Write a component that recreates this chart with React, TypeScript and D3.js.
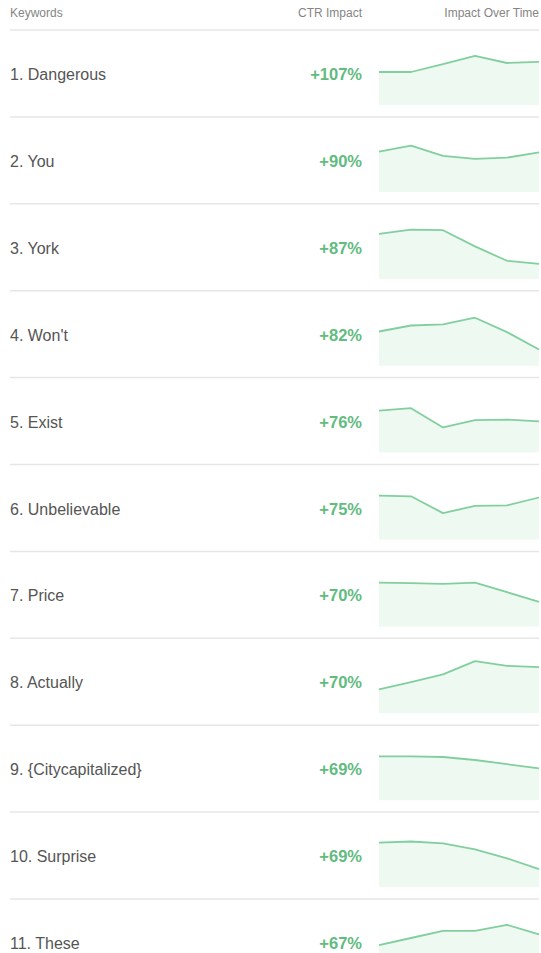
import React, { useEffect, useRef } from "react";
import * as d3 from "d3";

const W = 541, H = 953;

const keywords = ["Dangerous", "You", "York", "Won't", "Exist", "Unbelievable", "Price", "Actually", "{Citycapitalized}", "Surprise", "These"];
const ctrImpact = [107, 90, 87, 82, 76, 75, 70, 70, 69, 69, 67];
const periods = ["P1", "P2", "P3", "P4", "P5", "P6"];
const impactOverTime = [
  [55, 55, 68, 82, 70, 72],
  [67, 77, 60, 55, 57, 66],
  [75, 82, 81, 54, 30, 25],
  [57, 67, 69, 80, 56, 27],
  [70, 74, 42, 54, 55, 52],
  [73, 72, 44, 56, 57, 70],
  [73, 72, 71, 73, 57, 41],
  [40, 52, 65, 87, 79, 77],
  [73, 73, 72, 67, 60, 53],
  [74, 76, 73, 63, 48, 30],
  [48, 60, 72, 72, 82, 66],
];

const font = "'Liberation Sans', Arial, Helvetica, sans-serif";

const KeywordRows = () => {
  const ref = useRef<SVGSVGElement>(null);

  useEffect(() => {
    const svg = d3.select(ref.current);
    svg.selectAll("*").remove();

    const top = 30, rowH = 86.9;
    const y = d3.scaleBand<number>().domain(d3.range(keywords.length)).range([top, top + rowH * keywords.length]).padding(0);
    const x = d3.scalePoint<string>().domain(periods).range([379, 539]);
    const v = d3.scaleLinear().domain([0, 100]).range([75, 15]);

    const head = svg.append("g").attr("font-family", font).attr("font-size", 12).attr("fill", "#858585");
    head.append("text").attr("x", 10).attr("y", 17).text("Keywords");
    head.append("text").attr("x", 362).attr("y", 17).attr("text-anchor", "end").text("CTR Impact");
    head.append("text").attr("x", 539).attr("y", 17).attr("text-anchor", "end").text("Impact Over Time");

    const row = svg.append("g")
      .selectAll("g")
      .data(keywords)
      .join("g")
      .attr("transform", (d, i) => `translate(0,${y(i)})`);

    row.append("line")
      .attr("x1", 10).attr("x2", 539)
      .attr("y1", 0).attr("y2", 0)
      .attr("stroke", "#e6e6e6").attr("stroke-width", 1.5);

    row.append("text")
      .attr("x", 10).attr("y", 50)
      .attr("font-family", font).attr("font-size", 16)
      .attr("fill", "#555")
      .text((d, i) => `${i + 1}. ${d}`);

    row.append("text")
      .attr("x", 362).attr("y", 50)
      .attr("text-anchor", "end")
      .attr("font-family", font).attr("font-size", 16.5).attr("font-weight", "bold")
      .attr("fill", "#62bb80")
      .text((d, i) => `+${ctrImpact[i]}%`);

    const area = d3.area<number>()
      .x((d, i) => x(periods[i])!)
      .y0(v(0))
      .y1(d => v(d));
    const line = d3.line<number>()
      .x((d, i) => x(periods[i])!)
      .y(d => v(d));

    row.append("path")
      .attr("d", (d, i) => area(impactOverTime[i]))
      .attr("fill", "#eef9f2");

    row.append("path")
      .attr("d", (d, i) => line(impactOverTime[i]))
      .attr("fill", "none")
      .attr("stroke", "#82cf9e")
      .attr("stroke-width", 1.8)
      .attr("stroke-linejoin", "round");
  }, []);

  return <svg ref={ref} width={W} height={H} style={{ display: "block", background: "#fff" }} />;
};

export default function App() {
  return (
    <div style={{ position: "absolute", left: 0, top: 0, width: W, height: H, overflow: "hidden" }}>
      <KeywordRows />
    </div>
  );
}
